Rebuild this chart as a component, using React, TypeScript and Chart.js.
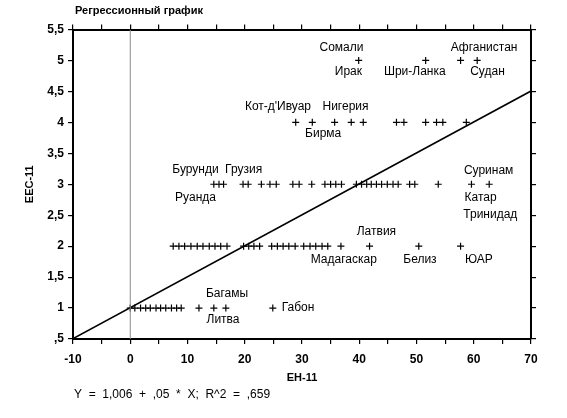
import { useEffect, useRef } from "react";
import { Chart, registerables } from "chart.js";

Chart.register(...registerables);

// EH-11 values of the countries, grouped by their EEC-11 level
const level1EH = [0, 0.8, 1.8, 2.7, 3.5, 4.5, 5.3, 6.2, 7.2, 8.1, 8.9, 12, 14.6, 16.7, 24.9];
const level2EH = [
  7.5, 8.5, 9.5, 10.6, 11.7, 12.7, 13.8, 14.8, 15.8, 16.9, 19.8, 20.7, 21.6, 22.6, 24.7, 25.7, 26.7,
  27.7, 28.8, 30.3, 31.4, 32.4, 33.5, 34.5, 36.8, 41.8, 50.4, 57.7,
];
const level3EH = [
  14.6, 15.5, 16.3, 19.7, 20.6, 22.9, 24.4, 25.5, 28.4, 29.5, 31.7, 34.0, 35.0, 35.9, 36.9, 39.5, 40.4,
  41.3, 42.1, 43.0, 43.9, 44.9, 45.9, 46.8, 48.8, 49.7, 53.8, 59.6, 62.7,
];
const level4EH = [28.9, 31.8, 35.7, 38.6, 40.7, 46.5, 47.8, 51.6, 53.5, 54.6, 58.7];
const level5EH = [39.9, 51.6, 57.7, 60.6];

const levelValues = [1, 2, 3, 4, 5];
const levelEH = [level1EH, level2EH, level3EH, level4EH, level5EH];

// regression line Y = 1,006 + ,05 * X
const regressionEH = [-10, 70];
const regressionEEC = [0.506, 4.506];

// zero reference line
const zeroLineEH = [0, 0];
const zeroLineEEC = [0.5, 5.5];

// country labels
const labelNames = [
  "Сомали", "Ирак", "Шри-Ланка", "Афганистан", "Судан",
  "Кот-д'Ивуар", "Нигерия", "Бирма",
  "Бурунди", "Грузия", "Руанда", "Суринам", "Катар", "Тринидад",
  "Латвия", "Мадагаскар", "Белиз", "ЮАР",
  "Багамы", "Литва", "Габон",
];
const labelEH = [
  36.9, 38.1, 49.7, 61.8, 62.4,
  25.8, 37.6, 33.7,
  11.4, 19.8, 11.4, 62.6, 61.2, 62.9,
  43.0, 37.3, 50.6, 60.9,
  16.9, 16.2, 29.3,
];
const labelEEC = [
  5.21, 4.82, 4.82, 5.21, 4.82,
  4.25, 4.25, 3.82,
  3.23, 3.23, 2.78, 3.22, 2.78, 2.51,
  2.23, 1.78, 1.78, 1.78,
  1.24, 0.81, 1.0,
];

const yTickLabels: Record<string, string> = {
  "0.5": ",5", "1": "1", "1.5": "1,5", "2": "2", "2.5": "2,5", "3": "3",
  "3.5": "3,5", "4": "4", "4.5": "4,5", "5": "5", "5.5": "5,5",
};

const titleText = "Регрессионный график";
const formulaText = "Y  =  1,006  +  ,05  *  X;  R^2  =  ,659";
const xTitle = "EH-11";
const yTitle = "EEC-11";

const FONT = "'Liberation Sans', Arial, sans-serif";

export default function App() {
  const ref = useRef<HTMLCanvasElement | null>(null);

  useEffect(() => {
    document.body.style.margin = "0";
    const canvas = ref.current;
    if (!canvas) return;

    const points: { x: number; y: number }[] = [];
    levelEH.forEach((arr, i) => arr.forEach((x) => points.push({ x, y: levelValues[i] })));

    const textPlugin = {
      id: "texts",
      afterDatasetsDraw(chart: any) {
        const { ctx, scales, chartArea } = chart;
        ctx.save();
        ctx.fillStyle = "#000";
        ctx.font = `12px ${FONT}`;
        ctx.textAlign = "center";
        ctx.textBaseline = "middle";
        labelNames.forEach((name, i) => {
          ctx.fillText(name, scales.x.getPixelForValue(labelEH[i]), scales.y.getPixelForValue(labelEEC[i]));
        });
        ctx.textAlign = "left";
        ctx.font = `bold 11px ${FONT}`;
        ctx.fillText(titleText, chartArea.left + 2, 11);
        ctx.font = `12px ${FONT}`;
        ctx.fillText(formulaText, chartArea.left + 1, 395);
        ctx.restore();
      },
    };

    const gridOpts = {
      drawOnChartArea: false,
      drawTicks: true,
      tickLength: 5,
      color: "#000",
      lineWidth: 1.2,
    };
    const borderOpts = { color: "#000", width: 2 };
    const tickFont = { family: FONT, size: 12, weight: "bold" as const };

    const chart = new Chart(canvas, {
      type: "scatter",
      data: {
        datasets: [
          {
            label: "zero",
            type: "line",
            data: zeroLineEH.map((x, i) => ({ x, y: zeroLineEEC[i] })),
            borderColor: "#8a8a8a",
            borderWidth: 1,
            pointRadius: 0,
          },
          {
            label: "regression",
            type: "line",
            data: regressionEH.map((x, i) => ({ x, y: regressionEEC[i] })),
            borderColor: "#000",
            borderWidth: 1.6,
            pointRadius: 0,
          },
          {
            label: "countries",
            data: points,
            pointStyle: "cross",
            pointRadius: 3.5,
            borderColor: "#000",
            backgroundColor: "#000",
            borderWidth: 1.2,
          },
        ],
      },
      options: {
        responsive: false,
        animation: false,
        layout: { padding: 0 },
        plugins: {
          legend: { display: false },
          tooltip: { enabled: false },
        },
        scales: {
          x: {
            type: "linear",
            position: "bottom",
            min: -10,
            max: 70,
            grid: gridOpts,
            border: borderOpts,
            ticks: {
              stepSize: 5,
              autoSkip: false,
              maxRotation: 0,
              padding: 8,
              color: "#000",
              font: tickFont,
              callback: (v: any) => (Number(v) % 10 === 0 ? String(v) : ""),
            },
            title: {
              display: true,
              text: xTitle,
              color: "#000",
              font: { family: FONT, size: 11, weight: "bold" },
              padding: { top: 0, bottom: 33 },
            },
            afterFit: (s: any) => {
              s.height = 79;
            },
          },
          x2: {
            type: "linear",
            position: "top",
            min: -10,
            max: 70,
            grid: gridOpts,
            border: borderOpts,
            ticks: { stepSize: 5, autoSkip: false, display: false },
            afterFit: (s: any) => {
              s.height = 29.5;
            },
          },
          y: {
            type: "linear",
            position: "left",
            min: 0.5,
            max: 5.5,
            grid: gridOpts,
            border: borderOpts,
            ticks: {
              stepSize: 0.5,
              autoSkip: false,
              padding: 4,
              color: "#000",
              font: tickFont,
              callback: (v: any) => yTickLabels[String(Number(v))] ?? String(v),
            },
            title: {
              display: true,
              text: yTitle,
              color: "#000",
              font: { family: FONT, size: 11, weight: "bold" },
              padding: { top: 23, bottom: 0 },
            },
            afterFit: (s: any) => {
              s.width = 73;
            },
          },
          y2: {
            type: "linear",
            position: "right",
            min: 0.5,
            max: 5.5,
            grid: gridOpts,
            border: borderOpts,
            ticks: { stepSize: 0.5, autoSkip: false, display: false },
            afterFit: (s: any) => {
              s.width = 36;
            },
          },
        },
      },
      plugins: [textPlugin],
    });

    return () => chart.destroy();
  }, []);

  return (
    <div style={{ width: 567, height: 418, background: "#fff" }}>
      <canvas ref={ref} width={567} height={418} />
    </div>
  );
}
